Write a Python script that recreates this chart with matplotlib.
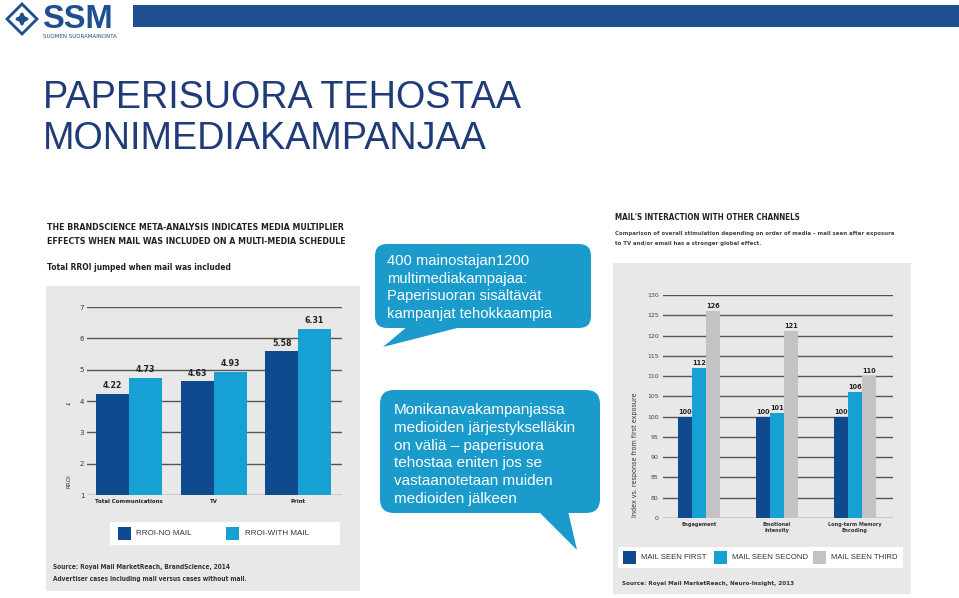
import numpy as np
import matplotlib
matplotlib.use("Agg")
import matplotlib.pyplot as plt
from matplotlib.patches import Rectangle, FancyBboxPatch, Polygon, FancyArrowPatch

# left chart data
rroi_cats = ["Total Communications", "TV", "Print"]
rroi_no_mail = [4.22, 4.63, 5.58]
rroi_with_mail = [4.73, 4.93, 6.31]

# right chart data
order_cats = ["Engagement", "Emotional\nIntensity", "Long-term Memory\nEncoding"]
seen_first = [100, 100, 100]
seen_second = [112, 101, 106]
seen_third = [126, 121, 110]
order_ticks = [80, 85, 90, 95, 100, 105, 110, 115, 120, 125, 130]

DARK = "#0f4a8e"
LIGHT = "#17a0d3"
GREY = "#c3c3c3"
BUBBLE = "#1a9bcc"
NAVY = "#1f3b78"
PANEL = "#e8e8e8"
ARIAL = ["Liberation Sans", "DejaVu Sans"]

W, H = 959, 598
fig = plt.figure(figsize=(W / 100, H / 100), dpi=100)
bg = fig.add_axes([0, 0, 1, 1], zorder=0)
bg.set_xlim(0, W)
bg.set_ylim(H, 0)
bg.axis("off")


def cond(x, y, s, size, bold=True, **kw):
    kw.setdefault("color", "#222222")
    kw.setdefault("va", "center")
    return bg.text(x, y, s, fontsize=size, family="DejaVu Sans", fontstretch="condensed",
                   fontweight="bold" if bold else "normal", **kw)


# header: logo + blue strip
bg.add_patch(Rectangle((133, 5), W - 133, 22, color="#1d4f91", lw=0))
cx, cy, r = 22, 19, 17
bg.add_patch(Polygon([(cx, cy - r), (cx + r, cy), (cx, cy + r), (cx - r, cy)], closed=True,
                     fc="#1d4f91", ec="none"))
r2 = 13
bg.add_patch(Polygon([(cx, cy - r2), (cx + r2, cy), (cx, cy + r2), (cx - r2, cy)], closed=True,
                     fc="white", ec="none"))
for a, b in [((cx - 11, cy), (cx + 11, cy)), ((cx, cy - 11), (cx, cy + 11))]:
    bg.add_patch(FancyArrowPatch(a, b, arrowstyle="<|-|>", mutation_scale=7, lw=2.2, color="#1d4f91"))
bg.text(42, 28, "SSM", fontsize=23.5, fontweight="bold", color="#1d4f91", family=ARIAL,
        va="baseline", ha="left")
cond(43, 36, "SUOMEN SUORAMAINONTA", 4.4, bold=False, color="#1d4f91")

# title
bg.text(43, 108, "PAPERISUORA TEHOSTAA", fontsize=27.2, color=NAVY, family=ARIAL, va="baseline")
bg.text(43, 149, "MONIMEDIAKAMPANJAA", fontsize=27.2, color=NAVY, family=ARIAL, va="baseline")

# panels
bg.add_patch(Rectangle((46, 286), 314, 305, color=PANEL, lw=0))
bg.add_patch(Rectangle((613, 263), 298, 331, color=PANEL, lw=0))

# left panel texts
cond(47, 227, "THE BRANDSCIENCE META-ANALYSIS INDICATES MEDIA MULTIPLIER", 6.3)
cond(47, 242, "EFFECTS WHEN MAIL WAS INCLUDED ON A MULTI-MEDIA SCHEDULE", 6.3)
cond(47, 267, "Total RROI jumped when mail was included", 6.0)
cond(69, 488, "RROI", 4.5, bold=False, rotation=90, color="#333333", va="bottom", ha="center")
cond(69, 403, "£", 4.5, bold=False, rotation=90, color="#333333", ha="center")

bg.add_patch(Rectangle((110, 522), 230, 23, color="white", lw=0))
bg.add_patch(Rectangle((118, 527), 13, 13, color=DARK, lw=0))
bg.text(136, 533.5, "RROI-NO MAIL", fontsize=5.8, family=ARIAL, color="#333333", va="center")
bg.add_patch(Rectangle((226, 527), 13, 13, color=LIGHT, lw=0))
bg.text(245, 533.5, "RROI-WITH MAIL", fontsize=5.8, family=ARIAL, color="#333333", va="center")
cond(53, 567, "Source: Royal Mail MarketReach, BrandScience, 2014", 4.7, color="#333333")
cond(53, 579, "Advertiser cases including mail versus cases without mail.", 4.7, color="#333333")

# right panel texts
cond(615, 217, "MAIL'S INTERACTION WITH OTHER CHANNELS", 5.8)
cond(615, 233, "Comparison of overall stimulation depending on order of media \u2013 mail seen after exposure",
     4.35, color="#444444")
cond(615, 244, "to TV and/or email has a stronger global effect.", 4.35, color="#444444")
cond(635, 455, "Index vs. response from first exposure", 5.1, bold=False, rotation=90,
     color="#333333", ha="center")

bg.add_patch(Rectangle((618, 547), 285, 21, color="white", lw=0))
for x0, col, lab in [(623, DARK, "MAIL SEEN FIRST"), (714, LIGHT, "MAIL SEEN SECOND"),
                     (813, GREY, "MAIL SEEN THIRD")]:
    bg.add_patch(Rectangle((x0, 551), 13, 13, color=col, lw=0))
    bg.text(x0 + 18, 557.5, lab, fontsize=5.6, family=ARIAL, color="#333333", va="center")
cond(622, 583, "Source: Royal Mail MarketReach, Neuro-Insight, 2013", 4.5, color="#333333")

# speech bubbles
bg.add_patch(FancyBboxPatch((375 + 12, 244 + 12), 216 - 24, 84 - 24,
                            boxstyle="round,pad=12", fc=BUBBLE, ec="none"))
bg.add_patch(Polygon([(408, 326), (465, 326), (383, 347)], closed=True, fc=BUBBLE, ec="none"))
lines1 = ["400 mainostajan1200", "multimediakampajaa:", "Paperisuoran sisältävät",
          "kampanjat tehokkaampia"]
for i, t in enumerate(lines1):
    bg.text(387, 261 + i * 17.7, t, fontsize=10.6, color="white", family=ARIAL, va="center")

bg.add_patch(FancyBboxPatch((380 + 14, 390 + 14), 220 - 28, 123 - 28,
                            boxstyle="round,pad=14", fc=BUBBLE, ec="none"))
bg.add_patch(Polygon([(538, 511), (568, 511), (577, 550)], closed=True, fc=BUBBLE, ec="none"))
lines2 = ["Monikanavakampanjassa", "medioiden järjestykselläkin", "on väliä \u2013 paperisuora",
          "tehostaa eniten jos se", "vastaanotetaan muiden", "medioiden jälkeen"]
for i, t in enumerate(lines2):
    bg.text(394, 410 + i * 17.8, t, fontsize=11.0, color="white", family=ARIAL, va="center")

# left chart
ax1 = fig.add_axes([87 / W, (H - 495) / H, 255 / W, 188 / H], zorder=2)
ax1.patch.set_alpha(0)
x = np.arange(len(rroi_cats))
bw = 0.39
ax1.bar(x - bw / 2, np.array(rroi_no_mail) - 1, bw, bottom=1, color=DARK, zorder=3)
ax1.bar(x + bw / 2, np.array(rroi_with_mail) - 1, bw, bottom=1, color=LIGHT, zorder=3)
for xs, vals in [(x - bw / 2, rroi_no_mail), (x + bw / 2, rroi_with_mail)]:
    for xi, v in zip(xs, vals):
        ax1.text(xi, v + 0.12, f"{v:.2f}", ha="center", va="bottom", fontsize=6.3,
                 fontweight="bold", family="DejaVu Sans", fontstretch="condensed", color="#222222")
ax1.set_xlim(-0.5, 2.52)
ax1.set_ylim(1, 7)
ax1.set_yticks(range(1, 8))
ax1.set_xticks(x)
ax1.set_xticklabels(rroi_cats, fontsize=4.3, fontweight="bold", fontstretch="condensed",
                    color="#222222")
ax1.tick_params(length=0, pad=3)
ax1.tick_params(axis="y", labelsize=5, labelcolor="#333333", pad=2)
ax1.grid(axis="y", color="#555555", lw=1)
ax1.set_axisbelow(True)
for s in ax1.spines.values():
    s.set_visible(False)

# right chart (broken axis: bottom tick "0" stands at 75)
ax2 = fig.add_axes([663 / W, (H - 518) / H, 230 / W, 223 / H], zorder=2)
ax2.patch.set_alpha(0)
x = np.arange(len(order_cats))
bw = 0.18
base = 75
for off, vals, col in [(-bw, seen_first, DARK), (0, seen_second, LIGHT), (bw, seen_third, GREY)]:
    ax2.bar(x + off, np.array(vals) - base, bw, bottom=base, color=col, zorder=3)
    for xi, v in zip(x + off, vals):
        ax2.text(xi, v + 0.5, str(v), ha="center", va="bottom", fontsize=5.2,
                 fontweight="bold", family="DejaVu Sans", fontstretch="condensed", color="#222222")
ax2.set_xlim(-0.46, 2.49)
ax2.set_ylim(base, 130)
ax2.set_yticks([base] + order_ticks)
ax2.set_yticklabels(["0"] + [str(t) for t in order_ticks])
ax2.set_xticks(x)
ax2.set_xticklabels(order_cats, fontsize=4.0, fontweight="bold", fontstretch="condensed",
                    color="#333333", linespacing=1.1)
ax2.tick_params(length=0, pad=3)
ax2.tick_params(axis="y", labelsize=4.5, labelcolor="#444444", pad=3)
ax2.grid(axis="y", color="#555555", lw=1)
ax2.set_axisbelow(True)
for s in ax2.spines.values():
    s.set_visible(False)

fig.savefig("out.png", dpi=100)
